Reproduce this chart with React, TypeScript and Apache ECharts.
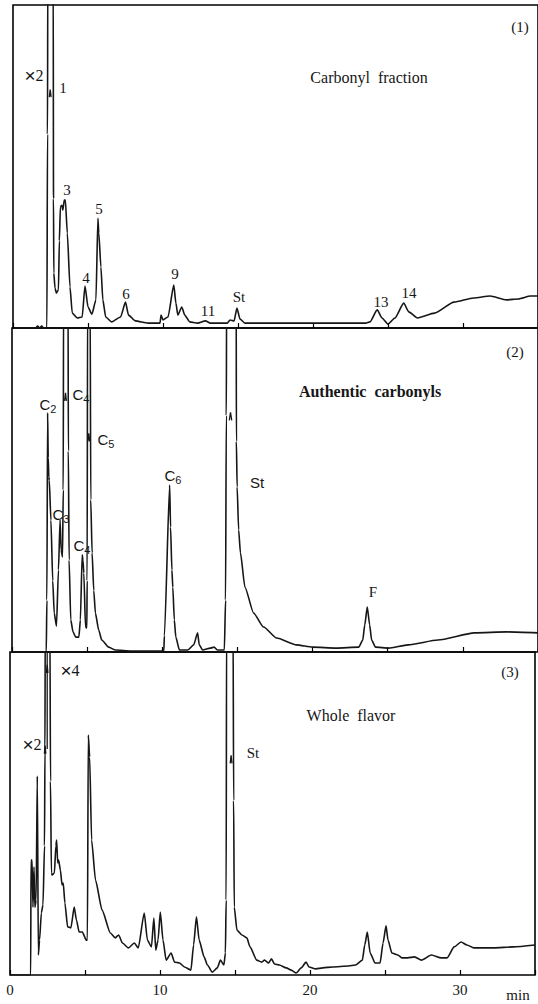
import React, { useEffect, useRef } from "react";
import * as echarts from "echarts";

// Retention time axis (min) and tick labels
const X_MIN = 0;
const X_MAX = 35;
const X_TICK = 5;
const X_LABELS = [0, 10, 20, 30];

// Panel (1) Carbonyl fraction: [min, relative response %]
const carbonylTrace: [number, number][] = [
  [0.07, 0], [1.51, 0], [1.64, 0.6], [1.78, 0], [1.91, 0.6], [2.04, 0], [2.26, 0], [2.3, 60], [2.32, 110],
  [2.68, 110], [2.7, 40], [2.72, 17], [2.8, 12.4], [2.89, 10.8], [3.03, 11.8], [3.09, 27], [3.16, 37.5],
  [3.26, 38], [3.32, 36.5], [3.42, 39.6], [3.49, 39.6], [3.62, 29.4], [3.8, 12.7], [3.95, 4.6], [4.28, 3.1],
  [4.61, 3.4], [4.8, 13], [5.0, 6.5], [5.26, 4.3], [5.53, 8.7], [5.66, 34], [5.72, 29.4], [5.86, 18.9],
  [5.99, 8.7], [6.18, 3.4], [6.58, 1.9], [7.17, 3.4], [7.5, 8], [7.7, 4], [8.16, 2.2], [9.0, 1.5], [9.8, 1.5],
  [9.87, 4], [10.0, 2.5], [10.33, 3.4], [10.72, 13.3], [10.86, 7.7], [10.99, 4], [11.25, 6.5], [11.45, 4],
  [11.78, 1.9], [12.3, 1.5], [12.83, 2.2], [13.16, 1.5], [14.28, 1.5], [14.47, 2.5], [14.74, 2.2], [14.93, 6.2],
  [15.13, 2.8], [15.46, 1.5], [23.5, 1.5], [23.8, 1.9], [24.28, 5.6], [24.6, 3.1], [25.0, 1.2], [25.46, 3.1],
  [26.05, 7.7], [26.38, 5], [26.97, 3.1], [28.1, 4.6], [29.4, 8], [30.7, 9.3], [31.8, 9.9], [32.9, 8.7],
  [33.7, 9], [34.5, 9.9], [35, 9.9],
];
const carbonylMarks: [number, number][][] = [
  [[2.42, 71.5], [2.48, 73.8], [2.54, 71.5]],
];

// Panel (2) Authentic carbonyls
const authenticTrace: [number, number][] = [
  [0.01, 0], [2.28, 0], [2.32, 16], [2.37, 73.8], [2.41, 60], [2.45, 54], [2.48, 53], [2.59, 40.7], [2.71, 22],
  [2.81, 12], [2.96, 8], [3.09, 25.3], [3.2, 40.7], [3.27, 31.5], [3.36, 29.3], [3.41, 50], [3.43, 110],
  [3.73, 110], [3.75, 62], [3.8, 28.4], [3.91, 9.9], [4.06, 6.2], [4.24, 4.6], [4.45, 4.6], [4.55, 9.9],
  [4.67, 30], [4.72, 28.4], [4.78, 24.4], [4.89, 7.7], [4.98, 7.4], [5.0, 22], [5.03, 110], [5.2, 110],
  [5.24, 47], [5.33, 30.6], [5.44, 19], [5.55, 12], [5.77, 6.8], [5.97, 3.7], [6.43, 1.5], [6.89, 0.6],
  [7.94, 0.3], [10.1, 0.3], [10.14, 5], [10.49, 51.5], [10.55, 38.6], [10.64, 25.3], [10.7, 20], [10.8, 9.9],
  [10.9, 4.6], [11.14, 0.6], [11.69, 0.6], [12.09, 2.2], [12.35, 5.9], [12.46, 2.2], [12.68, 0.6], [13.2, 1.2],
  [13.45, 1.5], [13.66, 0.6], [14.13, 0.6], [14.21, 16], [14.26, 73], [14.28, 110], [14.92, 110], [14.93, 65],
  [14.98, 51], [15.08, 37.7], [15.2, 30.6], [15.5, 20], [16.08, 12], [16.74, 7.7], [17.61, 4.3], [18.93, 2.2],
  [20.0, 1.5], [21.56, 1.2], [23.07, 1.5], [23.34, 3.7], [23.47, 8.3], [23.64, 13.9], [23.8, 8.3], [23.93, 3.7],
  [24.19, 1.5], [25.05, 1.2], [26.36, 2.2], [28.34, 3.7], [30.77, 5.9], [32.94, 6.2], [35, 5.9],
];
const authenticMarks: [number, number][][] = [
  [[3.5, 77.5], [3.56, 80], [3.62, 77.5]],
  [[5.05, 65], [5.11, 67.5], [5.17, 65]],
  [[14.46, 71.5], [14.54, 74], [14.62, 71.5]],
];

// Panel (3) Whole flavor
const wholeTrace: [number, number][] = [
  [0, 0], [1.38, 0], [1.4, 35.6], [1.47, 35.6], [1.53, 21], [1.6, 33.4], [1.66, 21], [1.74, 23.2], [1.82, 61.6],
  [1.89, 6.2], [1.97, 10.8], [2.09, 19.2], [2.2, 21.7], [2.3, 40], [2.33, 69.7], [2.35, 110], [2.66, 110],
  [2.7, 60], [2.76, 31.6], [2.81, 31], [2.96, 31.6], [3.06, 40], [3.11, 41.8], [3.18, 34.7], [3.24, 35.6],
  [3.36, 32.5], [3.47, 27.9], [3.55, 28.5], [3.66, 22.3], [3.84, 14.9], [4.06, 14.6], [4.28, 21], [4.43, 17],
  [4.61, 13.3], [4.82, 13.3], [5.09, 10.8], [5.16, 10.8], [5.22, 74.3], [5.31, 67.5], [5.44, 41.8], [5.7, 29.4],
  [6.14, 20.1], [6.69, 13], [7.02, 11.5], [7.24, 12.4], [7.5, 9.9], [7.89, 8.4], [8.29, 9.9], [8.55, 8.4],
  [8.95, 19.2], [9.16, 10.8], [9.43, 8.7], [9.59, 17.6], [9.72, 7.7], [9.87, 10.8], [10.02, 19.5], [10.2, 10.8],
  [10.41, 4.6], [10.74, 6.8], [10.97, 4], [11.3, 3.7], [11.63, 2.5], [12.06, 1.5], [12.24, 9.3], [12.43, 18],
  [12.61, 10.8], [12.94, 5.6], [13.16, 3.1], [13.49, 0.9], [13.82, 2.2], [14.03, 4.6], [14.26, 3.1], [14.36, 6.8],
  [14.41, 23.2], [14.44, 110], [14.87, 110], [14.91, 54], [14.95, 21], [15.13, 13.9], [15.46, 12.4], [15.79, 11.5],
  [16.0, 8.7], [16.45, 4.6], [16.78, 4], [16.97, 4.6], [17.24, 3.7], [17.43, 5], [17.63, 3.4], [17.96, 3.1],
  [18.42, 2.2], [18.75, 1.5], [19.08, 0.6], [19.41, 2.2], [19.74, 4], [19.93, 2.5], [20.39, 1.9], [20.86, 2.2],
  [21.51, 2.5], [22.57, 2.8], [23.03, 3.1], [23.49, 4.6], [23.65, 9.3], [23.82, 13.3], [24.01, 6.8], [24.34, 3.7],
  [24.67, 3.7], [24.87, 9.9], [25.07, 15.2], [25.2, 10.8], [25.46, 6.8], [25.86, 6.2], [26.12, 5.3], [26.51, 5.3],
  [26.97, 5.6], [27.43, 4.6], [28.09, 6.2], [28.75, 5.3], [29.14, 5.3], [29.61, 8.7], [30.07, 10.2], [30.46, 9.3],
  [30.92, 8.4], [32.24, 8.4], [33.55, 8.7], [35, 9.3],
];
const wholeMarks: [number, number][][] = [
  [[2.29, 68.5], [2.34, 71], [2.39, 68.5]],
  [[2.48, 70], [2.48, 110]],
  [[2.43, 93.5], [2.48, 96], [2.53, 93.5]],
  [[14.68, 65.5], [14.74, 68], [14.8, 65.5]],
];

const SERIF = '"Liberation Serif", "DejaVu Serif", serif';
const SANS = '"Liberation Sans", "DejaVu Sans", sans-serif';
const INK = "#161616";

function txt(text: string, x: number, y: number, size = 15, family = SERIF, weight = "normal") {
  return {
    type: "text",
    x,
    y,
    silent: true,
    z: 100,
    style: {
      text,
      fill: INK,
      font: `${weight} ${size}px ${family}`,
      align: "center",
      verticalAlign: "middle",
    },
  };
}

function times(n: string, x: number, y: number) {
  return {
    type: "text",
    x,
    y,
    silent: true,
    z: 100,
    style: {
      text: `{m|×}{n|${n}}`,
      fill: INK,
      font: `15px ${SERIF}`,
      align: "center",
      verticalAlign: "middle",
      rich: {
        m: { font: `19px ${SANS}`, lineHeight: 18, fill: INK },
        n: { font: `16px ${SERIF}`, lineHeight: 18, fill: INK },
      },
    },
  };
}

function sub(base: string, n: string, x: number, y: number) {
  return {
    type: "text",
    x,
    y,
    silent: true,
    z: 100,
    style: {
      text: `{c|${base}}{s|${n}}`,
      fill: INK,
      font: `15px ${SANS}`,
      align: "center",
      verticalAlign: "middle",
      rich: {
        c: { font: `15px ${SANS}`, lineHeight: 20, fill: INK },
        s: { font: `11px ${SANS}`, lineHeight: 20, verticalAlign: "bottom", fill: INK },
      },
    },
  };
}

export default function App() {
  const ref = useRef<HTMLDivElement>(null);
  useEffect(() => {
    if (!ref.current) return;
    const chart = echarts.init(ref.current, undefined, { renderer: "svg" });
    const pxPerMin = 15.2;
    const gridW = (X_MAX - X_MIN) * pxPerMin;
    const panels = [
      { left: 13, top: 5, height: 323 },
      { left: 12, top: 328, height: 324 },
      { left: 10, top: 652, height: 323 },
    ];
    const grids = panels.map((p) => ({
      left: p.left,
      top: p.top,
      width: gridW,
      height: p.height,
      show: true,
      borderColor: "#000",
      borderWidth: 1.6,
      backgroundColor: "transparent",
      containLabel: false,
    }));
    const xAxes = panels.map((_, i) => ({
      type: "value",
      gridIndex: i,
      min: X_MIN,
      max: X_MAX,
      interval: X_TICK,
      axisLine: { show: false },
      splitLine: { show: false },
      axisTick: { show: true, inside: true, length: 5, lineStyle: { color: "#000", width: 1.2 } },
      axisLabel: {
        show: i === 2,
        margin: 7,
        color: INK,
        fontFamily: SERIF,
        fontSize: 15,
        formatter: (v: number) => (X_LABELS.indexOf(v) >= 0 ? String(v) : ""),
      },
    }));
    const yAxes = panels.map((_, i) => ({
      type: "value",
      gridIndex: i,
      min: 0,
      max: 100,
      show: false,
    }));
    const line = (data: [number, number][], idx: number, width = 1.6, smooth = 0) => ({
      type: "line",
      xAxisIndex: idx,
      yAxisIndex: idx,
      data,
      symbol: "none",
      showSymbol: false,
      clip: true,
      silent: true,
      smooth,
      smoothMonotone: "x",
      lineStyle: { color: INK, width },
      z: 3,
    });
    const series: any[] = [
      line(carbonylTrace, 0, 1.6, 0.2),
      line(authenticTrace, 1, 1.6, 0.2),
      line(wholeTrace, 2, 1.6, 0.2),
      ...carbonylMarks.map((m) => line(m, 0, 1.3)),
      ...authenticMarks.map((m) => line(m, 1, 1.3)),
      ...wholeMarks.map((m) => line(m, 2, 1.3)),
    ];
    const graphics: any[] = [
      // Panel 1
      times("2", 34, 75),
      txt("1", 63, 88),
      txt("3", 67, 190),
      txt("4", 86, 278),
      txt("5", 99, 209),
      txt("6", 126, 294),
      txt("9", 175, 274),
      txt("11", 208, 311),
      txt("St", 239, 297),
      txt("13", 381, 302),
      txt("14", 409, 293),
      txt("Carbonyl  fraction", 369, 77, 16),
      txt("(1)", 520, 27),
      // Panel 2
      sub("C", "2", 48, 404),
      sub("C", "4", 81, 394),
      sub("C", "5", 106, 439),
      sub("C", "3", 61, 514),
      sub("C", "4", 82, 545),
      sub("C", "6", 173, 475),
      txt("St", 257, 482, 15, SANS),
      txt("F", 373, 592),
      txt("Authentic  carbonyls", 370, 391, 16, SERIF, "bold"),
      txt("(2)", 515, 352),
      // Panel 3
      times("4", 70, 670),
      times("2", 32, 744),
      txt("St", 253, 753),
      txt("Whole  flavor", 351, 715, 16),
      txt("(3)", 510, 672),
      txt("min", 518, 995),
    ];
    chart.setOption({
      animation: false,
      backgroundColor: "#fff",
      grid: grids,
      xAxis: xAxes,
      yAxis: yAxes,
      series,
      graphic: { elements: graphics },
    });
    return () => chart.dispose();
  }, []);
  return (
    <div
      ref={ref}
      style={{ position: "absolute", left: 0, top: 0, width: 538, height: 1004, background: "#fff" }}
    />
  );
}
